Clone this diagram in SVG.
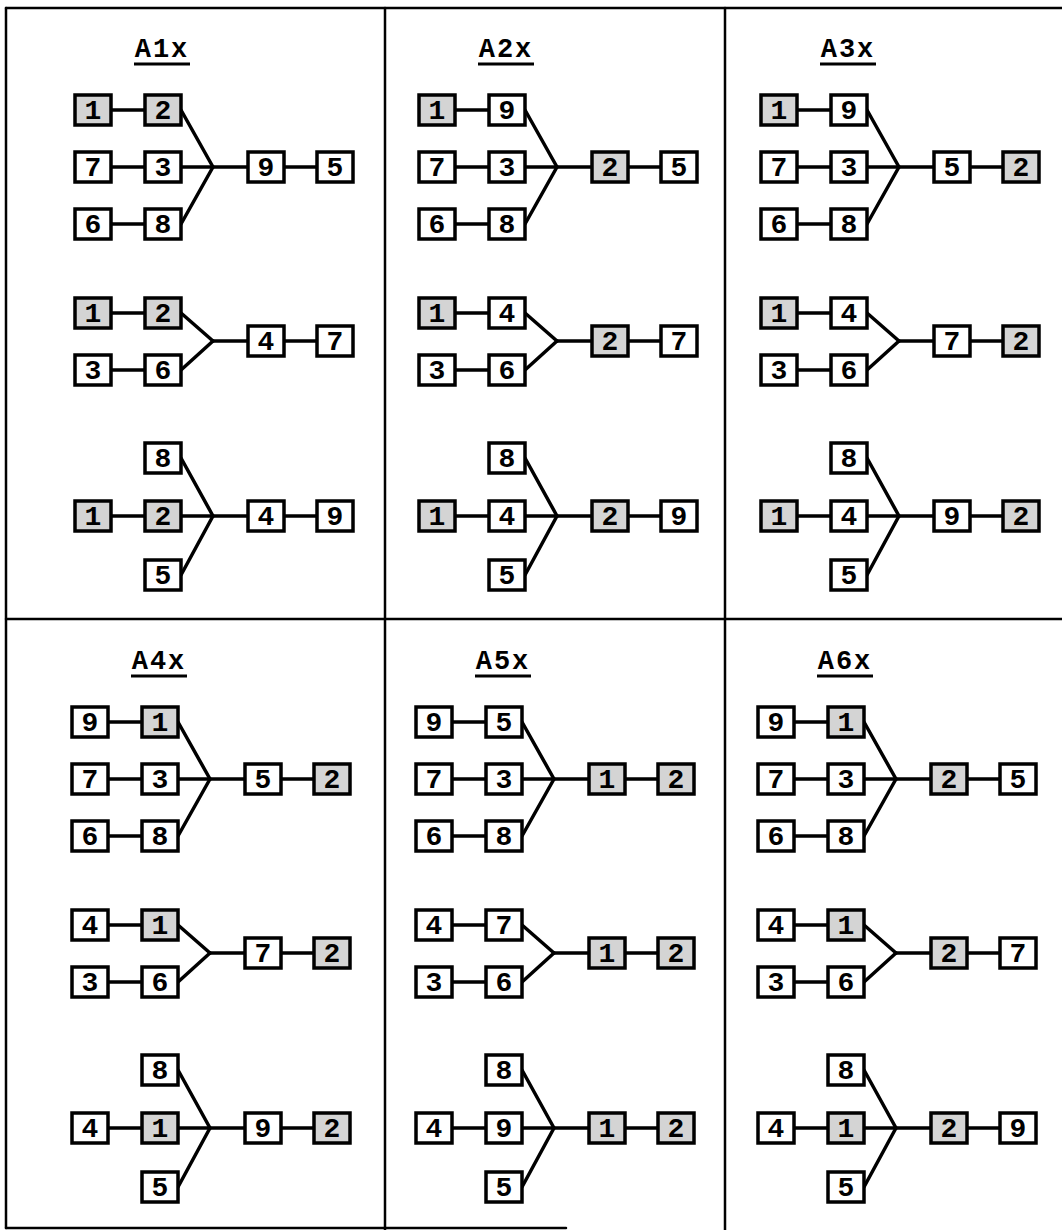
<svg xmlns="http://www.w3.org/2000/svg" width="1062" height="1230" viewBox="0 0 1062 1230">
<style>
.b{fill:#fff;stroke:#000;stroke-width:3.5}
.s{fill:#d4d4d4}
.t{font-family:"Liberation Mono","DejaVu Sans Mono",monospace;font-size:28px;font-weight:bold;text-anchor:middle;fill:#000}
.h{font-family:"Liberation Mono","DejaVu Sans Mono",monospace;font-size:27px;font-weight:bold;letter-spacing:2px;text-anchor:middle;fill:#000}
.c line,.f line{stroke:#000;stroke-width:3.5;stroke-linecap:round}
.f line{stroke-width:2.5}
</style>
<rect width="1062" height="1230" fill="#fff"/>
<g id="frame" class="f">
<line x1="6" y1="8" x2="1062" y2="8"/>
<line x1="6" y1="8" x2="6" y2="1228"/>
<line x1="6" y1="1228" x2="566" y2="1228"/>
<line x1="385" y1="8" x2="385" y2="1230"/>
<line x1="725" y1="8" x2="725" y2="1230"/>
<line x1="6" y1="619" x2="1062" y2="619"/>
</g>

<!-- Panel A1 -->
<g id="A1" transform="translate(0,0)">
<text class="h" x="162" y="57">A1x</text><line x1="134" y1="64" x2="190" y2="64" stroke="#000" stroke-width="3"/>
<g id="A1-connectors" class="c">
<line x1="111" y1="110" x2="145" y2="110"/><line x1="111" y1="167" x2="145" y2="167"/><line x1="111" y1="224" x2="145" y2="224"/>
<line x1="181" y1="110" x2="213" y2="167"/><line x1="181" y1="167" x2="213" y2="167"/><line x1="181" y1="224" x2="213" y2="167"/>
<line x1="213" y1="167" x2="248" y2="167"/><line x1="284" y1="167" x2="317" y2="167"/>
<line x1="111" y1="313" x2="145" y2="313"/><line x1="111" y1="370" x2="145" y2="370"/>
<line x1="181" y1="313" x2="213" y2="341"/><line x1="181" y1="370" x2="213" y2="341"/>
<line x1="213" y1="341" x2="248" y2="341"/><line x1="284" y1="341" x2="317" y2="341"/>
<line x1="111" y1="516" x2="145" y2="516"/>
<line x1="181" y1="458" x2="213" y2="516"/><line x1="181" y1="516" x2="213" y2="516"/><line x1="181" y1="575" x2="213" y2="516"/>
<line x1="213" y1="516" x2="248" y2="516"/><line x1="284" y1="516" x2="317" y2="516"/>
</g>
<g id="A1-a1"><rect class="b s" x="75" y="95" width="36" height="30"/><text class="t" x="93" y="119">1</text></g>
<g id="A1-a2"><rect class="b s" x="145" y="95" width="36" height="30"/><text class="t" x="163" y="119">2</text></g>
<g id="A1-a3"><rect class="b" x="75" y="152" width="36" height="30"/><text class="t" x="93" y="176">7</text></g>
<g id="A1-a4"><rect class="b" x="145" y="152" width="36" height="30"/><text class="t" x="163" y="176">3</text></g>
<g id="A1-a5"><rect class="b" x="75" y="209" width="36" height="30"/><text class="t" x="93" y="233">6</text></g>
<g id="A1-a6"><rect class="b" x="145" y="209" width="36" height="30"/><text class="t" x="163" y="233">8</text></g>
<g id="A1-a7"><rect class="b" x="248" y="152" width="36" height="30"/><text class="t" x="266" y="176">9</text></g>
<g id="A1-a8"><rect class="b" x="317" y="152" width="36" height="30"/><text class="t" x="335" y="176">5</text></g>
<g id="A1-b1"><rect class="b s" x="75" y="298" width="36" height="30"/><text class="t" x="93" y="322">1</text></g>
<g id="A1-b2"><rect class="b s" x="145" y="298" width="36" height="30"/><text class="t" x="163" y="322">2</text></g>
<g id="A1-b3"><rect class="b" x="75" y="355" width="36" height="30"/><text class="t" x="93" y="379">3</text></g>
<g id="A1-b4"><rect class="b" x="145" y="355" width="36" height="30"/><text class="t" x="163" y="379">6</text></g>
<g id="A1-b5"><rect class="b" x="248" y="326" width="36" height="30"/><text class="t" x="266" y="350">4</text></g>
<g id="A1-b6"><rect class="b" x="317" y="326" width="36" height="30"/><text class="t" x="335" y="350">7</text></g>
<g id="A1-c1"><rect class="b" x="145" y="443" width="36" height="30"/><text class="t" x="163" y="467">8</text></g>
<g id="A1-c2"><rect class="b s" x="75" y="501" width="36" height="30"/><text class="t" x="93" y="525">1</text></g>
<g id="A1-c3"><rect class="b s" x="145" y="501" width="36" height="30"/><text class="t" x="163" y="525">2</text></g>
<g id="A1-c4"><rect class="b" x="145" y="560" width="36" height="30"/><text class="t" x="163" y="584">5</text></g>
<g id="A1-c5"><rect class="b" x="248" y="501" width="36" height="30"/><text class="t" x="266" y="525">4</text></g>
<g id="A1-c6"><rect class="b" x="317" y="501" width="36" height="30"/><text class="t" x="335" y="525">9</text></g>
</g>

<!-- Panel A2 -->
<g id="A2" transform="translate(344,0)">
<text class="h" x="162" y="57">A2x</text><line x1="134" y1="64" x2="190" y2="64" stroke="#000" stroke-width="3"/>
<g id="A2-connectors" class="c">
<line x1="111" y1="110" x2="145" y2="110"/><line x1="111" y1="167" x2="145" y2="167"/><line x1="111" y1="224" x2="145" y2="224"/>
<line x1="181" y1="110" x2="213" y2="167"/><line x1="181" y1="167" x2="213" y2="167"/><line x1="181" y1="224" x2="213" y2="167"/>
<line x1="213" y1="167" x2="248" y2="167"/><line x1="284" y1="167" x2="317" y2="167"/>
<line x1="111" y1="313" x2="145" y2="313"/><line x1="111" y1="370" x2="145" y2="370"/>
<line x1="181" y1="313" x2="213" y2="341"/><line x1="181" y1="370" x2="213" y2="341"/>
<line x1="213" y1="341" x2="248" y2="341"/><line x1="284" y1="341" x2="317" y2="341"/>
<line x1="111" y1="516" x2="145" y2="516"/>
<line x1="181" y1="458" x2="213" y2="516"/><line x1="181" y1="516" x2="213" y2="516"/><line x1="181" y1="575" x2="213" y2="516"/>
<line x1="213" y1="516" x2="248" y2="516"/><line x1="284" y1="516" x2="317" y2="516"/>
</g>
<g id="A2-a1"><rect class="b s" x="75" y="95" width="36" height="30"/><text class="t" x="93" y="119">1</text></g>
<g id="A2-a2"><rect class="b" x="145" y="95" width="36" height="30"/><text class="t" x="163" y="119">9</text></g>
<g id="A2-a3"><rect class="b" x="75" y="152" width="36" height="30"/><text class="t" x="93" y="176">7</text></g>
<g id="A2-a4"><rect class="b" x="145" y="152" width="36" height="30"/><text class="t" x="163" y="176">3</text></g>
<g id="A2-a5"><rect class="b" x="75" y="209" width="36" height="30"/><text class="t" x="93" y="233">6</text></g>
<g id="A2-a6"><rect class="b" x="145" y="209" width="36" height="30"/><text class="t" x="163" y="233">8</text></g>
<g id="A2-a7"><rect class="b s" x="248" y="152" width="36" height="30"/><text class="t" x="266" y="176">2</text></g>
<g id="A2-a8"><rect class="b" x="317" y="152" width="36" height="30"/><text class="t" x="335" y="176">5</text></g>
<g id="A2-b1"><rect class="b s" x="75" y="298" width="36" height="30"/><text class="t" x="93" y="322">1</text></g>
<g id="A2-b2"><rect class="b" x="145" y="298" width="36" height="30"/><text class="t" x="163" y="322">4</text></g>
<g id="A2-b3"><rect class="b" x="75" y="355" width="36" height="30"/><text class="t" x="93" y="379">3</text></g>
<g id="A2-b4"><rect class="b" x="145" y="355" width="36" height="30"/><text class="t" x="163" y="379">6</text></g>
<g id="A2-b5"><rect class="b s" x="248" y="326" width="36" height="30"/><text class="t" x="266" y="350">2</text></g>
<g id="A2-b6"><rect class="b" x="317" y="326" width="36" height="30"/><text class="t" x="335" y="350">7</text></g>
<g id="A2-c1"><rect class="b" x="145" y="443" width="36" height="30"/><text class="t" x="163" y="467">8</text></g>
<g id="A2-c2"><rect class="b s" x="75" y="501" width="36" height="30"/><text class="t" x="93" y="525">1</text></g>
<g id="A2-c3"><rect class="b" x="145" y="501" width="36" height="30"/><text class="t" x="163" y="525">4</text></g>
<g id="A2-c4"><rect class="b" x="145" y="560" width="36" height="30"/><text class="t" x="163" y="584">5</text></g>
<g id="A2-c5"><rect class="b s" x="248" y="501" width="36" height="30"/><text class="t" x="266" y="525">2</text></g>
<g id="A2-c6"><rect class="b" x="317" y="501" width="36" height="30"/><text class="t" x="335" y="525">9</text></g>
</g>

<!-- Panel A3 -->
<g id="A3" transform="translate(686,0)">
<text class="h" x="162" y="57">A3x</text><line x1="134" y1="64" x2="190" y2="64" stroke="#000" stroke-width="3"/>
<g id="A3-connectors" class="c">
<line x1="111" y1="110" x2="145" y2="110"/><line x1="111" y1="167" x2="145" y2="167"/><line x1="111" y1="224" x2="145" y2="224"/>
<line x1="181" y1="110" x2="213" y2="167"/><line x1="181" y1="167" x2="213" y2="167"/><line x1="181" y1="224" x2="213" y2="167"/>
<line x1="213" y1="167" x2="248" y2="167"/><line x1="284" y1="167" x2="317" y2="167"/>
<line x1="111" y1="313" x2="145" y2="313"/><line x1="111" y1="370" x2="145" y2="370"/>
<line x1="181" y1="313" x2="213" y2="341"/><line x1="181" y1="370" x2="213" y2="341"/>
<line x1="213" y1="341" x2="248" y2="341"/><line x1="284" y1="341" x2="317" y2="341"/>
<line x1="111" y1="516" x2="145" y2="516"/>
<line x1="181" y1="458" x2="213" y2="516"/><line x1="181" y1="516" x2="213" y2="516"/><line x1="181" y1="575" x2="213" y2="516"/>
<line x1="213" y1="516" x2="248" y2="516"/><line x1="284" y1="516" x2="317" y2="516"/>
</g>
<g id="A3-a1"><rect class="b s" x="75" y="95" width="36" height="30"/><text class="t" x="93" y="119">1</text></g>
<g id="A3-a2"><rect class="b" x="145" y="95" width="36" height="30"/><text class="t" x="163" y="119">9</text></g>
<g id="A3-a3"><rect class="b" x="75" y="152" width="36" height="30"/><text class="t" x="93" y="176">7</text></g>
<g id="A3-a4"><rect class="b" x="145" y="152" width="36" height="30"/><text class="t" x="163" y="176">3</text></g>
<g id="A3-a5"><rect class="b" x="75" y="209" width="36" height="30"/><text class="t" x="93" y="233">6</text></g>
<g id="A3-a6"><rect class="b" x="145" y="209" width="36" height="30"/><text class="t" x="163" y="233">8</text></g>
<g id="A3-a7"><rect class="b" x="248" y="152" width="36" height="30"/><text class="t" x="266" y="176">5</text></g>
<g id="A3-a8"><rect class="b s" x="317" y="152" width="36" height="30"/><text class="t" x="335" y="176">2</text></g>
<g id="A3-b1"><rect class="b s" x="75" y="298" width="36" height="30"/><text class="t" x="93" y="322">1</text></g>
<g id="A3-b2"><rect class="b" x="145" y="298" width="36" height="30"/><text class="t" x="163" y="322">4</text></g>
<g id="A3-b3"><rect class="b" x="75" y="355" width="36" height="30"/><text class="t" x="93" y="379">3</text></g>
<g id="A3-b4"><rect class="b" x="145" y="355" width="36" height="30"/><text class="t" x="163" y="379">6</text></g>
<g id="A3-b5"><rect class="b" x="248" y="326" width="36" height="30"/><text class="t" x="266" y="350">7</text></g>
<g id="A3-b6"><rect class="b s" x="317" y="326" width="36" height="30"/><text class="t" x="335" y="350">2</text></g>
<g id="A3-c1"><rect class="b" x="145" y="443" width="36" height="30"/><text class="t" x="163" y="467">8</text></g>
<g id="A3-c2"><rect class="b s" x="75" y="501" width="36" height="30"/><text class="t" x="93" y="525">1</text></g>
<g id="A3-c3"><rect class="b" x="145" y="501" width="36" height="30"/><text class="t" x="163" y="525">4</text></g>
<g id="A3-c4"><rect class="b" x="145" y="560" width="36" height="30"/><text class="t" x="163" y="584">5</text></g>
<g id="A3-c5"><rect class="b" x="248" y="501" width="36" height="30"/><text class="t" x="266" y="525">9</text></g>
<g id="A3-c6"><rect class="b s" x="317" y="501" width="36" height="30"/><text class="t" x="335" y="525">2</text></g>
</g>

<!-- Panel A4 -->
<g id="A4" transform="translate(-3,612)">
<text class="h" x="162" y="57">A4x</text><line x1="134" y1="64" x2="190" y2="64" stroke="#000" stroke-width="3"/>
<g id="A4-connectors" class="c">
<line x1="111" y1="110" x2="145" y2="110"/><line x1="111" y1="167" x2="145" y2="167"/><line x1="111" y1="224" x2="145" y2="224"/>
<line x1="181" y1="110" x2="213" y2="167"/><line x1="181" y1="167" x2="213" y2="167"/><line x1="181" y1="224" x2="213" y2="167"/>
<line x1="213" y1="167" x2="248" y2="167"/><line x1="284" y1="167" x2="317" y2="167"/>
<line x1="111" y1="313" x2="145" y2="313"/><line x1="111" y1="370" x2="145" y2="370"/>
<line x1="181" y1="313" x2="213" y2="341"/><line x1="181" y1="370" x2="213" y2="341"/>
<line x1="213" y1="341" x2="248" y2="341"/><line x1="284" y1="341" x2="317" y2="341"/>
<line x1="111" y1="516" x2="145" y2="516"/>
<line x1="181" y1="458" x2="213" y2="516"/><line x1="181" y1="516" x2="213" y2="516"/><line x1="181" y1="575" x2="213" y2="516"/>
<line x1="213" y1="516" x2="248" y2="516"/><line x1="284" y1="516" x2="317" y2="516"/>
</g>
<g id="A4-a1"><rect class="b" x="75" y="95" width="36" height="30"/><text class="t" x="93" y="119">9</text></g>
<g id="A4-a2"><rect class="b s" x="145" y="95" width="36" height="30"/><text class="t" x="163" y="119">1</text></g>
<g id="A4-a3"><rect class="b" x="75" y="152" width="36" height="30"/><text class="t" x="93" y="176">7</text></g>
<g id="A4-a4"><rect class="b" x="145" y="152" width="36" height="30"/><text class="t" x="163" y="176">3</text></g>
<g id="A4-a5"><rect class="b" x="75" y="209" width="36" height="30"/><text class="t" x="93" y="233">6</text></g>
<g id="A4-a6"><rect class="b" x="145" y="209" width="36" height="30"/><text class="t" x="163" y="233">8</text></g>
<g id="A4-a7"><rect class="b" x="248" y="152" width="36" height="30"/><text class="t" x="266" y="176">5</text></g>
<g id="A4-a8"><rect class="b s" x="317" y="152" width="36" height="30"/><text class="t" x="335" y="176">2</text></g>
<g id="A4-b1"><rect class="b" x="75" y="298" width="36" height="30"/><text class="t" x="93" y="322">4</text></g>
<g id="A4-b2"><rect class="b s" x="145" y="298" width="36" height="30"/><text class="t" x="163" y="322">1</text></g>
<g id="A4-b3"><rect class="b" x="75" y="355" width="36" height="30"/><text class="t" x="93" y="379">3</text></g>
<g id="A4-b4"><rect class="b" x="145" y="355" width="36" height="30"/><text class="t" x="163" y="379">6</text></g>
<g id="A4-b5"><rect class="b" x="248" y="326" width="36" height="30"/><text class="t" x="266" y="350">7</text></g>
<g id="A4-b6"><rect class="b s" x="317" y="326" width="36" height="30"/><text class="t" x="335" y="350">2</text></g>
<g id="A4-c1"><rect class="b" x="145" y="443" width="36" height="30"/><text class="t" x="163" y="467">8</text></g>
<g id="A4-c2"><rect class="b" x="75" y="501" width="36" height="30"/><text class="t" x="93" y="525">4</text></g>
<g id="A4-c3"><rect class="b s" x="145" y="501" width="36" height="30"/><text class="t" x="163" y="525">1</text></g>
<g id="A4-c4"><rect class="b" x="145" y="560" width="36" height="30"/><text class="t" x="163" y="584">5</text></g>
<g id="A4-c5"><rect class="b" x="248" y="501" width="36" height="30"/><text class="t" x="266" y="525">9</text></g>
<g id="A4-c6"><rect class="b s" x="317" y="501" width="36" height="30"/><text class="t" x="335" y="525">2</text></g>
</g>

<!-- Panel A5 -->
<g id="A5" transform="translate(341,612)">
<text class="h" x="162" y="57">A5x</text><line x1="134" y1="64" x2="190" y2="64" stroke="#000" stroke-width="3"/>
<g id="A5-connectors" class="c">
<line x1="111" y1="110" x2="145" y2="110"/><line x1="111" y1="167" x2="145" y2="167"/><line x1="111" y1="224" x2="145" y2="224"/>
<line x1="181" y1="110" x2="213" y2="167"/><line x1="181" y1="167" x2="213" y2="167"/><line x1="181" y1="224" x2="213" y2="167"/>
<line x1="213" y1="167" x2="248" y2="167"/><line x1="284" y1="167" x2="317" y2="167"/>
<line x1="111" y1="313" x2="145" y2="313"/><line x1="111" y1="370" x2="145" y2="370"/>
<line x1="181" y1="313" x2="213" y2="341"/><line x1="181" y1="370" x2="213" y2="341"/>
<line x1="213" y1="341" x2="248" y2="341"/><line x1="284" y1="341" x2="317" y2="341"/>
<line x1="111" y1="516" x2="145" y2="516"/>
<line x1="181" y1="458" x2="213" y2="516"/><line x1="181" y1="516" x2="213" y2="516"/><line x1="181" y1="575" x2="213" y2="516"/>
<line x1="213" y1="516" x2="248" y2="516"/><line x1="284" y1="516" x2="317" y2="516"/>
</g>
<g id="A5-a1"><rect class="b" x="75" y="95" width="36" height="30"/><text class="t" x="93" y="119">9</text></g>
<g id="A5-a2"><rect class="b" x="145" y="95" width="36" height="30"/><text class="t" x="163" y="119">5</text></g>
<g id="A5-a3"><rect class="b" x="75" y="152" width="36" height="30"/><text class="t" x="93" y="176">7</text></g>
<g id="A5-a4"><rect class="b" x="145" y="152" width="36" height="30"/><text class="t" x="163" y="176">3</text></g>
<g id="A5-a5"><rect class="b" x="75" y="209" width="36" height="30"/><text class="t" x="93" y="233">6</text></g>
<g id="A5-a6"><rect class="b" x="145" y="209" width="36" height="30"/><text class="t" x="163" y="233">8</text></g>
<g id="A5-a7"><rect class="b s" x="248" y="152" width="36" height="30"/><text class="t" x="266" y="176">1</text></g>
<g id="A5-a8"><rect class="b s" x="317" y="152" width="36" height="30"/><text class="t" x="335" y="176">2</text></g>
<g id="A5-b1"><rect class="b" x="75" y="298" width="36" height="30"/><text class="t" x="93" y="322">4</text></g>
<g id="A5-b2"><rect class="b" x="145" y="298" width="36" height="30"/><text class="t" x="163" y="322">7</text></g>
<g id="A5-b3"><rect class="b" x="75" y="355" width="36" height="30"/><text class="t" x="93" y="379">3</text></g>
<g id="A5-b4"><rect class="b" x="145" y="355" width="36" height="30"/><text class="t" x="163" y="379">6</text></g>
<g id="A5-b5"><rect class="b s" x="248" y="326" width="36" height="30"/><text class="t" x="266" y="350">1</text></g>
<g id="A5-b6"><rect class="b s" x="317" y="326" width="36" height="30"/><text class="t" x="335" y="350">2</text></g>
<g id="A5-c1"><rect class="b" x="145" y="443" width="36" height="30"/><text class="t" x="163" y="467">8</text></g>
<g id="A5-c2"><rect class="b" x="75" y="501" width="36" height="30"/><text class="t" x="93" y="525">4</text></g>
<g id="A5-c3"><rect class="b" x="145" y="501" width="36" height="30"/><text class="t" x="163" y="525">9</text></g>
<g id="A5-c4"><rect class="b" x="145" y="560" width="36" height="30"/><text class="t" x="163" y="584">5</text></g>
<g id="A5-c5"><rect class="b s" x="248" y="501" width="36" height="30"/><text class="t" x="266" y="525">1</text></g>
<g id="A5-c6"><rect class="b s" x="317" y="501" width="36" height="30"/><text class="t" x="335" y="525">2</text></g>
</g>

<!-- Panel A6 -->
<g id="A6" transform="translate(683,612)">
<text class="h" x="162" y="57">A6x</text><line x1="134" y1="64" x2="190" y2="64" stroke="#000" stroke-width="3"/>
<g id="A6-connectors" class="c">
<line x1="111" y1="110" x2="145" y2="110"/><line x1="111" y1="167" x2="145" y2="167"/><line x1="111" y1="224" x2="145" y2="224"/>
<line x1="181" y1="110" x2="213" y2="167"/><line x1="181" y1="167" x2="213" y2="167"/><line x1="181" y1="224" x2="213" y2="167"/>
<line x1="213" y1="167" x2="248" y2="167"/><line x1="284" y1="167" x2="317" y2="167"/>
<line x1="111" y1="313" x2="145" y2="313"/><line x1="111" y1="370" x2="145" y2="370"/>
<line x1="181" y1="313" x2="213" y2="341"/><line x1="181" y1="370" x2="213" y2="341"/>
<line x1="213" y1="341" x2="248" y2="341"/><line x1="284" y1="341" x2="317" y2="341"/>
<line x1="111" y1="516" x2="145" y2="516"/>
<line x1="181" y1="458" x2="213" y2="516"/><line x1="181" y1="516" x2="213" y2="516"/><line x1="181" y1="575" x2="213" y2="516"/>
<line x1="213" y1="516" x2="248" y2="516"/><line x1="284" y1="516" x2="317" y2="516"/>
</g>
<g id="A6-a1"><rect class="b" x="75" y="95" width="36" height="30"/><text class="t" x="93" y="119">9</text></g>
<g id="A6-a2"><rect class="b s" x="145" y="95" width="36" height="30"/><text class="t" x="163" y="119">1</text></g>
<g id="A6-a3"><rect class="b" x="75" y="152" width="36" height="30"/><text class="t" x="93" y="176">7</text></g>
<g id="A6-a4"><rect class="b" x="145" y="152" width="36" height="30"/><text class="t" x="163" y="176">3</text></g>
<g id="A6-a5"><rect class="b" x="75" y="209" width="36" height="30"/><text class="t" x="93" y="233">6</text></g>
<g id="A6-a6"><rect class="b" x="145" y="209" width="36" height="30"/><text class="t" x="163" y="233">8</text></g>
<g id="A6-a7"><rect class="b s" x="248" y="152" width="36" height="30"/><text class="t" x="266" y="176">2</text></g>
<g id="A6-a8"><rect class="b" x="317" y="152" width="36" height="30"/><text class="t" x="335" y="176">5</text></g>
<g id="A6-b1"><rect class="b" x="75" y="298" width="36" height="30"/><text class="t" x="93" y="322">4</text></g>
<g id="A6-b2"><rect class="b s" x="145" y="298" width="36" height="30"/><text class="t" x="163" y="322">1</text></g>
<g id="A6-b3"><rect class="b" x="75" y="355" width="36" height="30"/><text class="t" x="93" y="379">3</text></g>
<g id="A6-b4"><rect class="b" x="145" y="355" width="36" height="30"/><text class="t" x="163" y="379">6</text></g>
<g id="A6-b5"><rect class="b s" x="248" y="326" width="36" height="30"/><text class="t" x="266" y="350">2</text></g>
<g id="A6-b6"><rect class="b" x="317" y="326" width="36" height="30"/><text class="t" x="335" y="350">7</text></g>
<g id="A6-c1"><rect class="b" x="145" y="443" width="36" height="30"/><text class="t" x="163" y="467">8</text></g>
<g id="A6-c2"><rect class="b" x="75" y="501" width="36" height="30"/><text class="t" x="93" y="525">4</text></g>
<g id="A6-c3"><rect class="b s" x="145" y="501" width="36" height="30"/><text class="t" x="163" y="525">1</text></g>
<g id="A6-c4"><rect class="b" x="145" y="560" width="36" height="30"/><text class="t" x="163" y="584">5</text></g>
<g id="A6-c5"><rect class="b s" x="248" y="501" width="36" height="30"/><text class="t" x="266" y="525">2</text></g>
<g id="A6-c6"><rect class="b" x="317" y="501" width="36" height="30"/><text class="t" x="335" y="525">9</text></g>
</g>
</svg>
